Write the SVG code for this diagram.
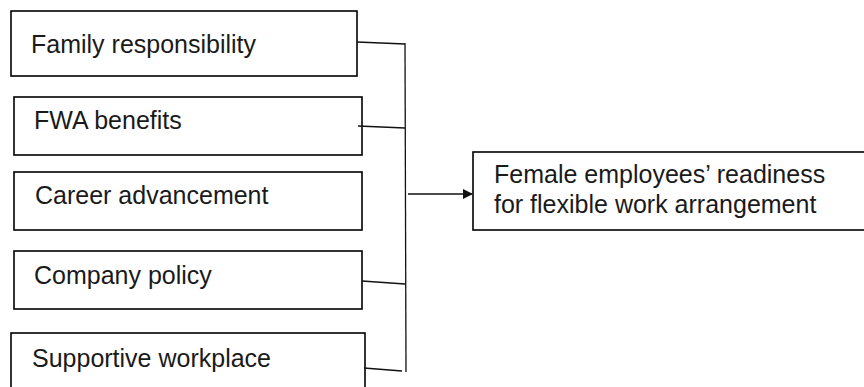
<svg xmlns="http://www.w3.org/2000/svg" width="864" height="387" viewBox="0 0 864 387">
<defs>
<style>
.box{fill:#fff;stroke:#000;stroke-width:1.6}
.t{font-family:"Liberation Sans",Arial,sans-serif;font-size:25px;fill:#1a1a1a}
.c{stroke:#111;stroke-width:1.3;fill:none}
</style>
<marker id="ah" markerWidth="12" markerHeight="12" refX="9" refY="6" orient="auto" markerUnits="userSpaceOnUse">
<path d="M0,1 L10,6 L0,11 Z" fill="#111"/>
</marker>
</defs>
<rect width="864" height="387" fill="#fff"/>
<g id="n1"><rect class="box" x="11" y="11" width="346" height="65"/><text class="t" x="31" y="53">Family responsibility</text></g>
<g id="n2"><rect class="box" x="14" y="97" width="348" height="58"/><text class="t" x="34" y="129">FWA benefits</text></g>
<g id="n3"><rect class="box" x="14" y="172" width="348" height="58"/><text class="t" x="35" y="204">Career advancement</text></g>
<g id="n4"><rect class="box" x="14" y="251" width="348" height="58"/><text class="t" x="34" y="284">Company policy</text></g>
<g id="n5"><rect class="box" x="11" y="333" width="354" height="70"/><text class="t" x="32" y="367">Supportive workplace</text></g>
<g id="target"><rect class="box" x="473" y="152" width="400" height="78"/><text class="t" x="494" y="183">Female employees’ readiness</text><text class="t" x="494" y="213">for flexible work arrangement</text></g>
<g id="connectors">
<line class="c" x1="405" y1="43" x2="406" y2="372"/>
<line class="c" x1="357" y1="42" x2="405" y2="44"/>
<line class="c" x1="358" y1="126" x2="405" y2="128"/>
<line class="c" x1="362" y1="281" x2="405" y2="284"/>
<line class="c" x1="364" y1="368" x2="402" y2="371"/>
<line class="c" x1="408" y1="194" x2="472" y2="194" marker-end="url(#ah)"/>
</g>
</svg>
